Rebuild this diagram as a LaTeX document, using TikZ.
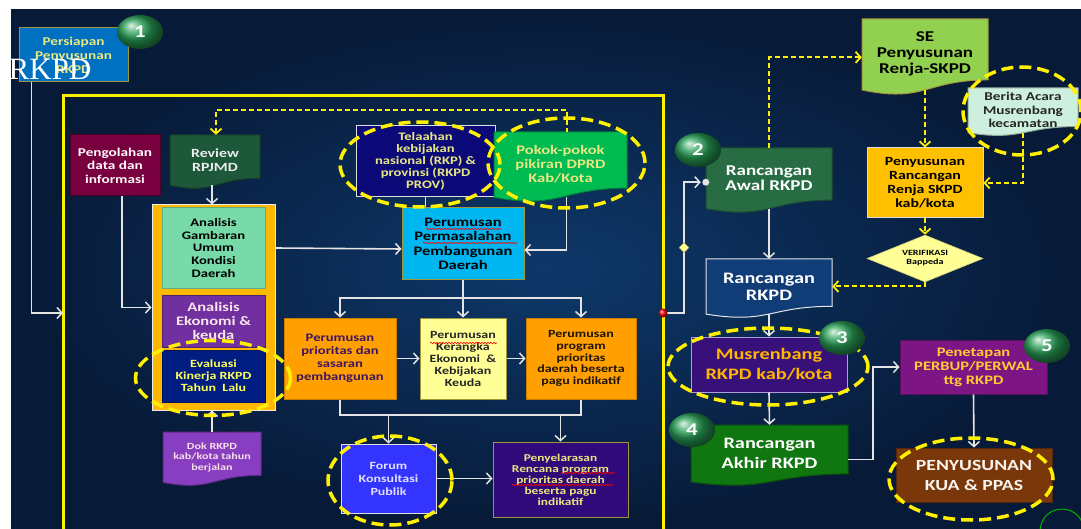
\documentclass[tikz,border=0pt]{standalone}
\usepackage{fontspec}
\setmainfont{Carlito}[FakeStretch=1.27]
\newfontfamily\artserif{Liberation Serif}
\usetikzlibrary{arrows.meta,shapes.geometric,calc,decorations.pathmorphing}
\definecolor{bgin}{RGB}{14,56,106}
\definecolor{bgout}{RGB}{7,26,55}
\definecolor{yel}{RGB}{255,240,0}
\definecolor{linec}{RGB}{228,228,228}
\definecolor{persB}{RGB}{0,112,192}
\definecolor{persT}{RGB}{232,232,130}
\definecolor{olive}{RGB}{160,150,60}
\definecolor{maroon}{RGB}{120,0,62}
\definecolor{revG}{RGB}{30,88,58}
\definecolor{contO}{RGB}{255,184,0}
\definecolor{mint}{RGB}{120,218,168}
\definecolor{purp}{RGB}{112,48,160}
\definecolor{evalB}{RGB}{0,30,130}
\definecolor{evalT}{RGB}{255,255,90}
\definecolor{dokP}{RGB}{135,62,192}
\definecolor{telN}{RGB}{12,10,120}
\definecolor{pokG}{RGB}{0,186,82}
\definecolor{cyanB}{RGB}{0,182,240}
\definecolor{oraB}{RGB}{255,160,0}
\definecolor{oraD}{RGB}{200,125,0}
\definecolor{prioT}{RGB}{62,20,100}
\definecolor{ltY}{RGB}{255,255,150}
\definecolor{forB}{RGB}{52,52,255}
\definecolor{penyP}{RGB}{48,10,122}
\definecolor{awalG}{RGB}{40,108,68}
\definecolor{seG}{RGB}{146,208,80}
\definecolor{berM}{RGB}{205,240,222}
\definecolor{goldB}{RGB}{255,192,0}
\definecolor{rkpdB}{RGB}{16,60,120}
\definecolor{musP}{RGB}{56,16,122}
\definecolor{musT}{RGB}{255,182,0}
\definecolor{lav}{RGB}{175,155,222}
\definecolor{akhG}{RGB}{16,118,16}
\definecolor{penP}{RGB}{125,22,132}
\definecolor{penT}{RGB}{255,202,50}
\definecolor{kuaB}{RGB}{122,56,10}
\definecolor{bgreen}{RGB}{40,160,86}
\newcommand{\fz}[2]{\fontsize{#1}{#2}\selectfont}
\newcommand{\docshape}[6]{%
  \pgfmathsetmacro{\dH}{#4-#2}%
  \pgfmathsetmacro{\dR}{#2+0.802*\dH}%
  \pgfmathsetmacro{\dC}{#2+1.107*\dH}%
  \pgfmathsetmacro{\dL}{#2+0.934*\dH}%
  \pgfmathsetmacro{\dM}{(#1+#3)/2}%
  \draw[fill=#5, draw=#6, line width=1pt] (#1,#2) -- (#3,#2) -- (#3,\dR) .. controls (\dM,\dR) and (\dM,\dC) .. (#1,\dL) -- cycle;}
\newcommand{\docnode}[9]{%
  \docshape{#2}{#3}{#4}{#5}{#6}{#7}%
  \pgfmathsetmacro{\nW}{#4-#2}%
  \pgfmathsetmacro{\nH}{0.93*(#5-#3)}%
  \pgfmathsetmacro{\nX}{(#2+#4)/2}%
  \pgfmathsetmacro{\nY}{#3+0.465*(#5-#3)}%
  \node[#8, minimum width=\nW pt, minimum height=\nH pt, draw=none, fill=none] (#1) at (\nX,\nY) {#9};}
\tikzset{
  box/.style={rectangle, draw, line width=1pt, align=center, inner sep=1pt},
  txt/.style={align=center, inner sep=1pt},
  arr/.style={draw=linec, line width=1.6pt, -{Straight Barb[length=5pt,width=11pt,line width=1.5pt]}},
  ln/.style={draw=linec, line width=1.6pt},
  darr/.style={draw=yel, line width=2pt, dash pattern=on 5pt off 3pt, -{Straight Barb[length=5pt,width=11pt,line width=1.8pt]}},
  dell/.style={ellipse, draw=yel, line width=3.5pt, dash pattern=on 12pt off 6pt, inner sep=0},
  badge/.style={ellipse, ball color=bgreen, minimum width=46pt, minimum height=34pt, inner sep=0, text=white, font=\bfseries\fz{18}{18}},
  spell/.style={draw=red, line width=0.6pt, decorate, decoration={snake, amplitude=0.8pt, segment length=3pt}},
}
\begin{document}
\begin{tikzpicture}[x=1pt,y=-1pt]
\useasboundingbox (0,0) rectangle (1081,529);
\clip (0,0) rectangle (1081,529);
\fill[white] (0,0) rectangle (1081,529);
\shade[inner color=bgin, outer color=bgout] (11,10) rectangle (1081,529);

% main yellow frame
\node[draw=yel, line width=3pt, minimum width=600pt, minimum height=434pt, inner sep=0, outer sep=0] (frame) at (363,313) {};

% top-left
\node[box, fill=persB, draw=olive, minimum width=109pt, minimum height=54pt, text=persT, font=\bfseries\fz{12}{14}] (pers) at (73.5,55) {Persiapan\\Penyusunan\\RKPD};

% left column
\node[box, fill=maroon, draw=maroon!60!black, minimum width=90pt, minimum height=61pt, text=white!90!pink, font=\bfseries\fz{12}{13.5}] (pengo) at (115,165.5) {Pengolahan\\data dan\\informasi};
\docnode{review}{170}{135}{260}{189}{revG}{revG!70!black}{txt, text=white!85!gray, font=\bfseries\fz{12.5}{14}}{Review\\RPJMD}
\node[fill=contO, draw=white!85!gray, line width=1pt, minimum width=123pt, minimum height=205pt, inner sep=0] (cont) at (213.5,307.5) {};
\node[box, fill=mint, draw=mint!80!black, minimum width=103pt, minimum height=80pt, text=black, font=\bfseries\fz{11.5}{12.7}] (gamb) at (213.5,248) {Analisis\\Gambaran\\Umum\\Kondisi\\Daerah};
\node[box, fill=purp, draw=purp!70!black, minimum width=103pt, minimum height=52pt, text=white!90!purple, font=\bfseries\fz{13}{14}] (ekon) at (213.5,321) {Analisis\\Ekonomi \&\\keuda};
\node[box, fill=evalB, draw=evalB!70!black, minimum width=103pt, minimum height=52pt, text=evalT, font=\bfseries\fz{11}{12}] (eval) at (213.5,376) {Evaluasi\\Kinerja RKPD\\Tahun~~Lalu};
\docnode{dok}{163}{432}{261}{486}{dokP}{dokP!70!black}{txt, text=white!88!purple, font=\bfseries\fz{9.5}{10.5}}{Dok RKPD\\kab/kota tahun\\berjalan}

% middle top
\node[box, fill=telN, draw=white!75!gray, minimum width=139pt, minimum height=71pt, text=persT, font=\bfseries\fz{11.5}{12}] (tel) at (425.5,161.5) {Telaahan\\kebijakan\\nasional (RKP) \&\\provinsi (RKPD\\PROV)};
\docnode{pok}{494}{132}{627}{202}{pokG}{pokG!70!black}{txt, text=persT, font=\bfseries\fz{13}{14}}{Pokok-pokok\\pikiran DPRD\\Kab/Kota}
\node[box, fill=cyanB, draw=olive, minimum width=122pt, minimum height=72pt, text=black, font=\bfseries\fz{13}{14.5}] (perm) at (463,244) {Perumusan\\Permasalahan\\Pembangunan\\Daerah};

% middle row
\node[box, fill=oraB, draw=oraD, minimum width=112pt, minimum height=81pt, text=prioT, font=\bfseries\fz{11.5}{13}] (prio) at (340,358.5) {Perumusan\\prioritas dan\\sasaran\\pembangunan};
\node[box, fill=ltY, draw=olive, minimum width=86pt, minimum height=81pt, text=black!85, font=\bfseries\fz{11}{12}] (kera) at (463,358.5) {Perumusan\\Kerangka\\Ekonomi~~\&\\Kebijakan\\Keuda};
\node[box, fill=oraB, draw=oraD, minimum width=110pt, minimum height=81pt, text=black!85!brown, font=\bfseries\fz{11}{11.6}] (prog) at (581,358.5) {Perumusan\\program\\prioritas\\daerah beserta\\pagu indikatif};

% bottom row
\node[box, fill=forB, draw=white!75!gray, minimum width=95pt, minimum height=69pt, text=white!88!blue, font=\bfseries\fz{11}{13}] (forum) at (388.5,478.5) {Forum\\Konsultasi\\Publik};
\node[box, fill=penyP, draw=olive, minimum width=135pt, minimum height=75pt, text=persT, font=\bfseries\fz{10.5}{11}] (peny) at (560.5,479.5) {Penyelarasan\\Rencana program\\prioritas daerah\\beserta pagu\\indikatif};

% spell-check underlines
\draw[spell] (426,229) -- (501,229);
\draw[spell] (423,243) -- (517,243);
\draw[spell] (430,343) -- (497,343);
\draw[spell] (561,473) -- (615,473);
\draw[spell] (512,485) -- (613,485);

% right part
\docnode{awal}{706}{148}{832}{213}{awalG}{awalG!70!black}{txt, text=white, font=\bfseries\fz{15}{15.5}}{Rancangan\\Awal RKPD}
\docnode{se}{862}{19}{988}{95}{seG}{olive}{txt, text=black, font=\bfseries\fz{15}{16}}{SE\\Penyusunan\\Renja-SKPD}
\docnode{ber}{968}{88}{1078}{136}{berM}{berM!70!black}{txt, text=black!85, font=\bfseries\fz{12}{13.5}}{Berita Acara\\Musrenbang\\kecamatan}
\node[box, fill=goldB, draw=white!70!gray, minimum width=116pt, minimum height=70pt, text=black, font=\bfseries\fz{12.5}{14}] (susun) at (925,183) {Penyusunan\\Rancangan\\Renja SKPD\\kab/kota};
\node[diamond, aspect=2.47, fill=ltY, draw=ltY!80!black, line width=0.6pt, minimum width=116pt, minimum height=47pt, inner sep=0, align=center, text=black, font=\bfseries\fz{8}{9}] (verif) at (925,258.5) {VERIFIKASI\\Bappeda};
\docnode{rkpd}{706}{259}{832}{318}{rkpdB}{white!80!gray}{txt, text=white, font=\bfseries\fz{16}{17}}{Rancangan\\RKPD}
\node[box, fill=musP, draw=lav, minimum width=156pt, minimum height=55pt, text=musT, font=\bfseries\fz{16}{20}] (mus) at (769,364.5) {Musrenbang\\RKPD kab/kota};
\docnode{akhir}{691}{425}{848}{486}{akhG}{akhG!70!black}{txt, text=white, font=\bfseries\fz{16}{20}}{Rancangan\\Akhir RKPD}
\node[box, fill=penP, draw=penP!70!black, minimum width=147pt, minimum height=54pt, text=penT, font=\bfseries\fz{13}{14}] (pen) at (973.5,367) {Penetapan\\PERBUP/PERWAL\\ttg RKPD};
\node[box, fill=kuaB, draw=kuaB!70!black, minimum width=156pt, minimum height=54pt, text=white!92!brown, font=\bfseries\fz{15.5}{20}] (kua) at (974,475) {PENYUSUNAN\\KUA \& PPAS};

% connectors (white)
\draw[arr] ([xshift=13pt]pers.south west) |- (frame.west);
\draw[arr] ([xshift=7pt]pengo.south) |- (cont.west);
\draw[arr] ([xshift=-3pt]review.south) -- ([xshift=-3pt]review.south |- cont.north);
\draw[arr] (dok.north) -- (dok.north |- cont.south);
\draw[arr] (gamb.east -| cont.east) -- ([yshift=-1pt]gamb.east -| perm.west);
\draw[arr] ([xshift=6pt]pok.south) |- ([yshift=-6pt]perm.east);
\draw[ln] (tel.south) -- (tel.south |- perm.north);
\coordinate (hb) at (463,298);
\draw[arr] (perm.south) -- (perm.south |- kera.north);
\draw[arr] (hb) -| (prio.north);
\draw[arr] (hb) -| (prog.north);
\draw[arr] (prio.east) -- (kera.west);
\draw[arr] (kera.east) -- (prog.west);
\coordinate (lb) at (0,415);
\draw[ln] (prio.south) -- (prio.south |- lb) -- (prog.south |- lb) -- (prog.south);
\draw[arr] (forum.north |- lb) -- (forum.north);
\draw[arr] (peny.north |- lb) -- (peny.north);
\draw[arr] (forum.east) -- (forum.east -| peny.west);
\draw[arr, shorten >=5pt] (frame.east) -- ++(21,0) |- node[diamond, pos=0.25, fill=ltY, draw=olive, line width=0.4pt, minimum width=10pt, minimum height=10pt, inner sep=0] (dm) {} ([yshift=-4pt]awal.west);
\fill[linec] ([yshift=-4pt]awal.west) circle (3.5);
\draw[arr] (awal.south) -- (rkpd.north);
\draw[arr] (rkpd.south) -- (mus.north);
\draw[arr] (mus.south) -- (akhir.north);
\draw[arr] ([yshift=-6pt]akhir.east) -- ++(25,0) |- (pen.west);
\draw[arr] (pen.south) -- (kua.north);

% dashed yellow connectors
\draw[darr, {Straight Barb[length=5pt,width=11pt,line width=1.8pt]}-] ([xshift=1pt]review.north) -- ++(0,-25) -| ([xshift=6pt]pok.north);
\draw[darr] (awal.north) |- ([yshift=-3pt]se.west);
\draw[darr] (se.south) -- (susun.north);
\draw[darr] (ber.south) |- (susun.east);
\draw[darr] (susun.south) -- (verif.north);
\draw[darr] (verif.south) |- (rkpd.east);

% red dot on frame
\shade[ball color=red] (frame.east) circle (4.5);

% dashed highlight ellipses
\node[dell, minimum width=155pt, minimum height=75pt] (eEval) at (213,378) {};
\node[dell, minimum width=160pt, minimum height=85pt] (eTel) at (420,164.5) {};
\node[dell, minimum width=157pt, minimum height=90pt] (ePok) at (566.5,163) {};
\node[dell, minimum width=124pt, minimum height=89pt] (eFor) at (390,480.5) {};
\node[dell, minimum width=118pt, minimum height=88pt] (eBer) at (1022,111) {};
\node[dell, minimum width=200pt, minimum height=77pt] (eMus) at (768,366.5) {};
\node[dell, minimum width=164pt, minimum height=82pt] (eKua) at (971,479) {};

% badges
\node[badge] (b1) at (140,32) {1};
\node[badge] (b2) at (698,150) {2};
\node[badge] (b3) at (842,338) {3};
\node[badge] (b4) at (692,430) {4};
\node[badge] (b5) at (1047,346) {5};

% bottom-right partial circle
\node[circle, draw=green!70!black, line width=1pt, minimum size=44pt, inner sep=0] (b8) at (1062,531) {};
\node[text=orange, font=\bfseries\fz{14}{14}] (t8) at (1062,536) {8};

% overlay artefact text
\node[text=white, font=\artserif\fz{31}{31}, inner sep=0] (art) at (50,69) {RKPD};
\end{tikzpicture}
\end{document}
